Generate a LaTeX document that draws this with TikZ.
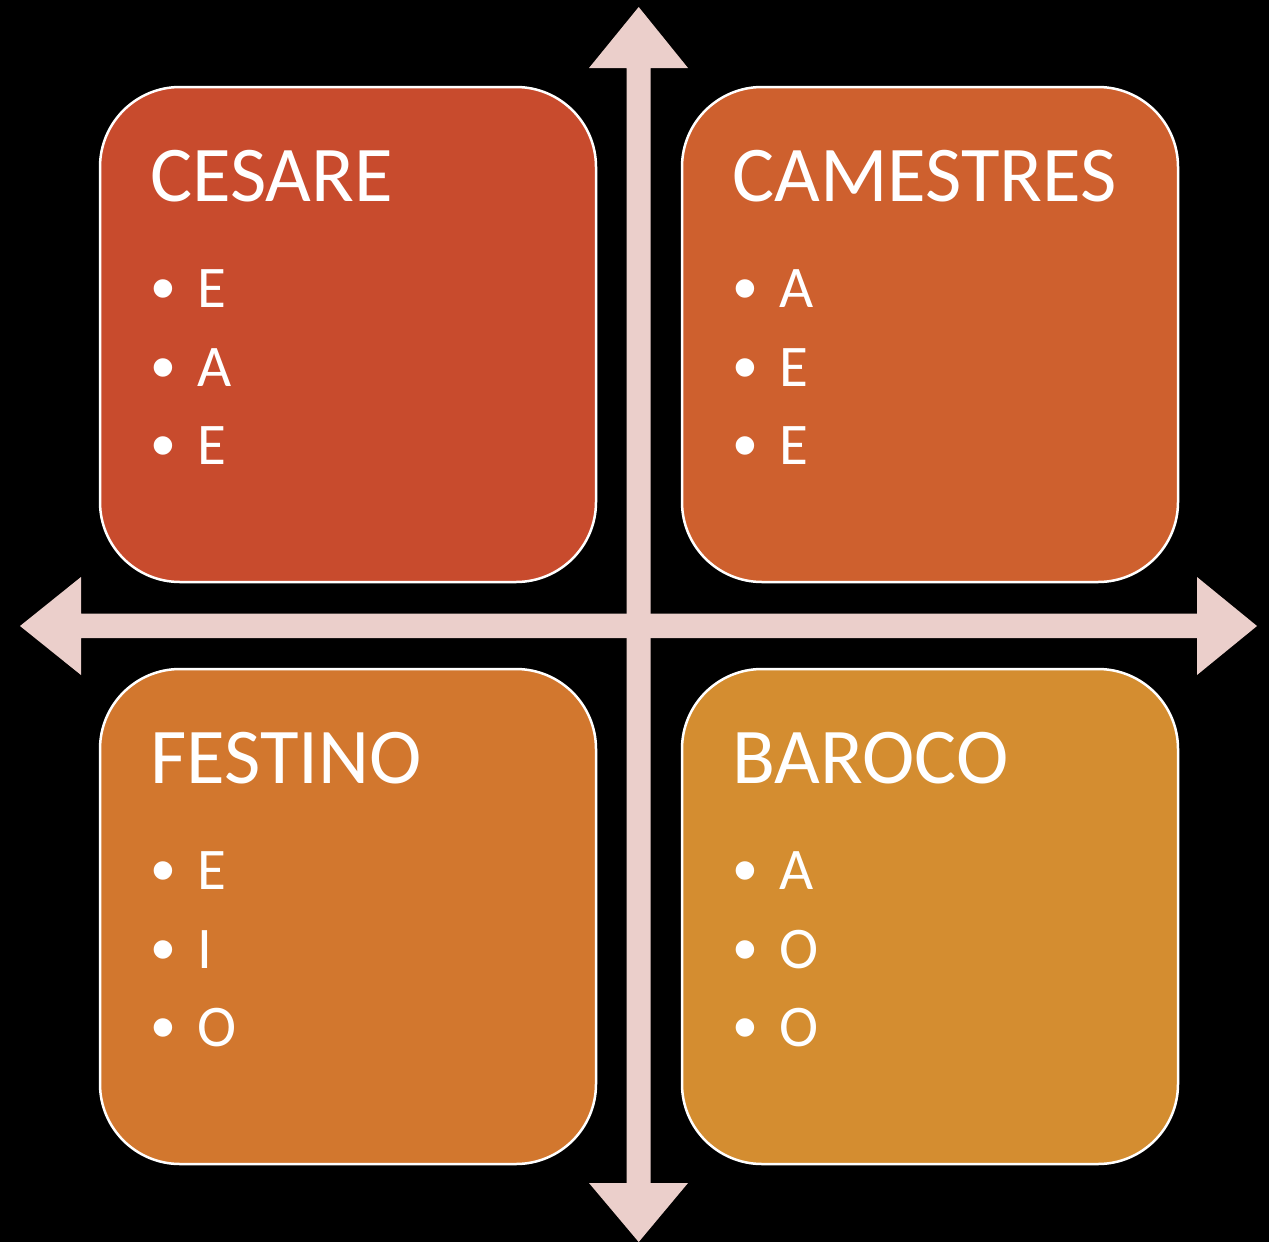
\documentclass[tikz,border=0pt]{standalone}
\usepackage{fontspec}
\setmainfont{Carlito}
\newfontfamily\bulletfont{Liberation Sans}
\definecolor{cesare}{HTML}{C84B2D}
\definecolor{camestres}{HTML}{CE602E}
\definecolor{festino}{HTML}{D2772E}
\definecolor{baroco}{HTML}{D48D30}
\definecolor{arrowc}{HTML}{EBCFCB}
\begin{document}
\begin{tikzpicture}[x=1pt,y=-1pt,
  quad/.style={draw=white,line width=2.5pt,rounded corners=80pt},
  ttl/.style={anchor=base west,inner sep=0pt,text=white,font=\fontsize{79}{82}\selectfont},
  itm/.style={anchor=base west,inner sep=0pt,text=white,font=\fontsize{59}{62}\selectfont},
  bul/.style={anchor=base,inner sep=0pt,text=white,font=\bulletfont\fontsize{68}{70}\selectfont},
  axis/.style={fill=arrowc,draw=none}]
\fill[black] (0,0) rectangle (1269,1242);
\useasboundingbox (0,0) rectangle (1269,1242);
% arrows
\fill[axis] (626.7,68) -- (589,68) -- (638.7,7) -- (688,68) -- (650.7,68) -- (650.7,1183) -- (688,1183) -- (638.7,1242) -- (589,1183) -- (626.7,1183) -- cycle;
\fill[axis] (81,613.5) -- (81,577) -- (20,626) -- (81,675) -- (81,638) -- (1197,638) -- (1197,675) -- (1257,626) -- (1197,577) -- (1197,613.5) -- cycle;
% boxes
\foreach \nm/\col/\dx/\dy/\ttltext/\a/\b/\c in {
  q1/cesare/0/0/CESARE/E/A/E,
  q2/camestres/582/0/CAMESTRES/A/E/E,
  q3/festino/0/582/FESTINO/E/I/O,
  q4/baroco/582/582/BAROCO/A/O/O}{
  \filldraw[quad,fill=\col] (100+\dx,87+\dy) rectangle (596+\dx,582+\dy);
  \node[ttl] (\nm-t) at (150+\dx,201+\dy) {\ttltext};
  \node[bul] (\nm-b1) at (163+\dx,311+\dy) {•};
  \node[bul] (\nm-b2) at (163+\dx,390+\dy) {•};
  \node[bul] (\nm-b3) at (163+\dx,468+\dy) {•};
  \node[itm] (\nm-i1) at (197+\dx,307+\dy) {\a};
  \node[itm] (\nm-i2) at (197+\dx,386+\dy) {\b};
  \node[itm] (\nm-i3) at (197+\dx,464+\dy) {\c};
}
\end{tikzpicture}
\end{document}
